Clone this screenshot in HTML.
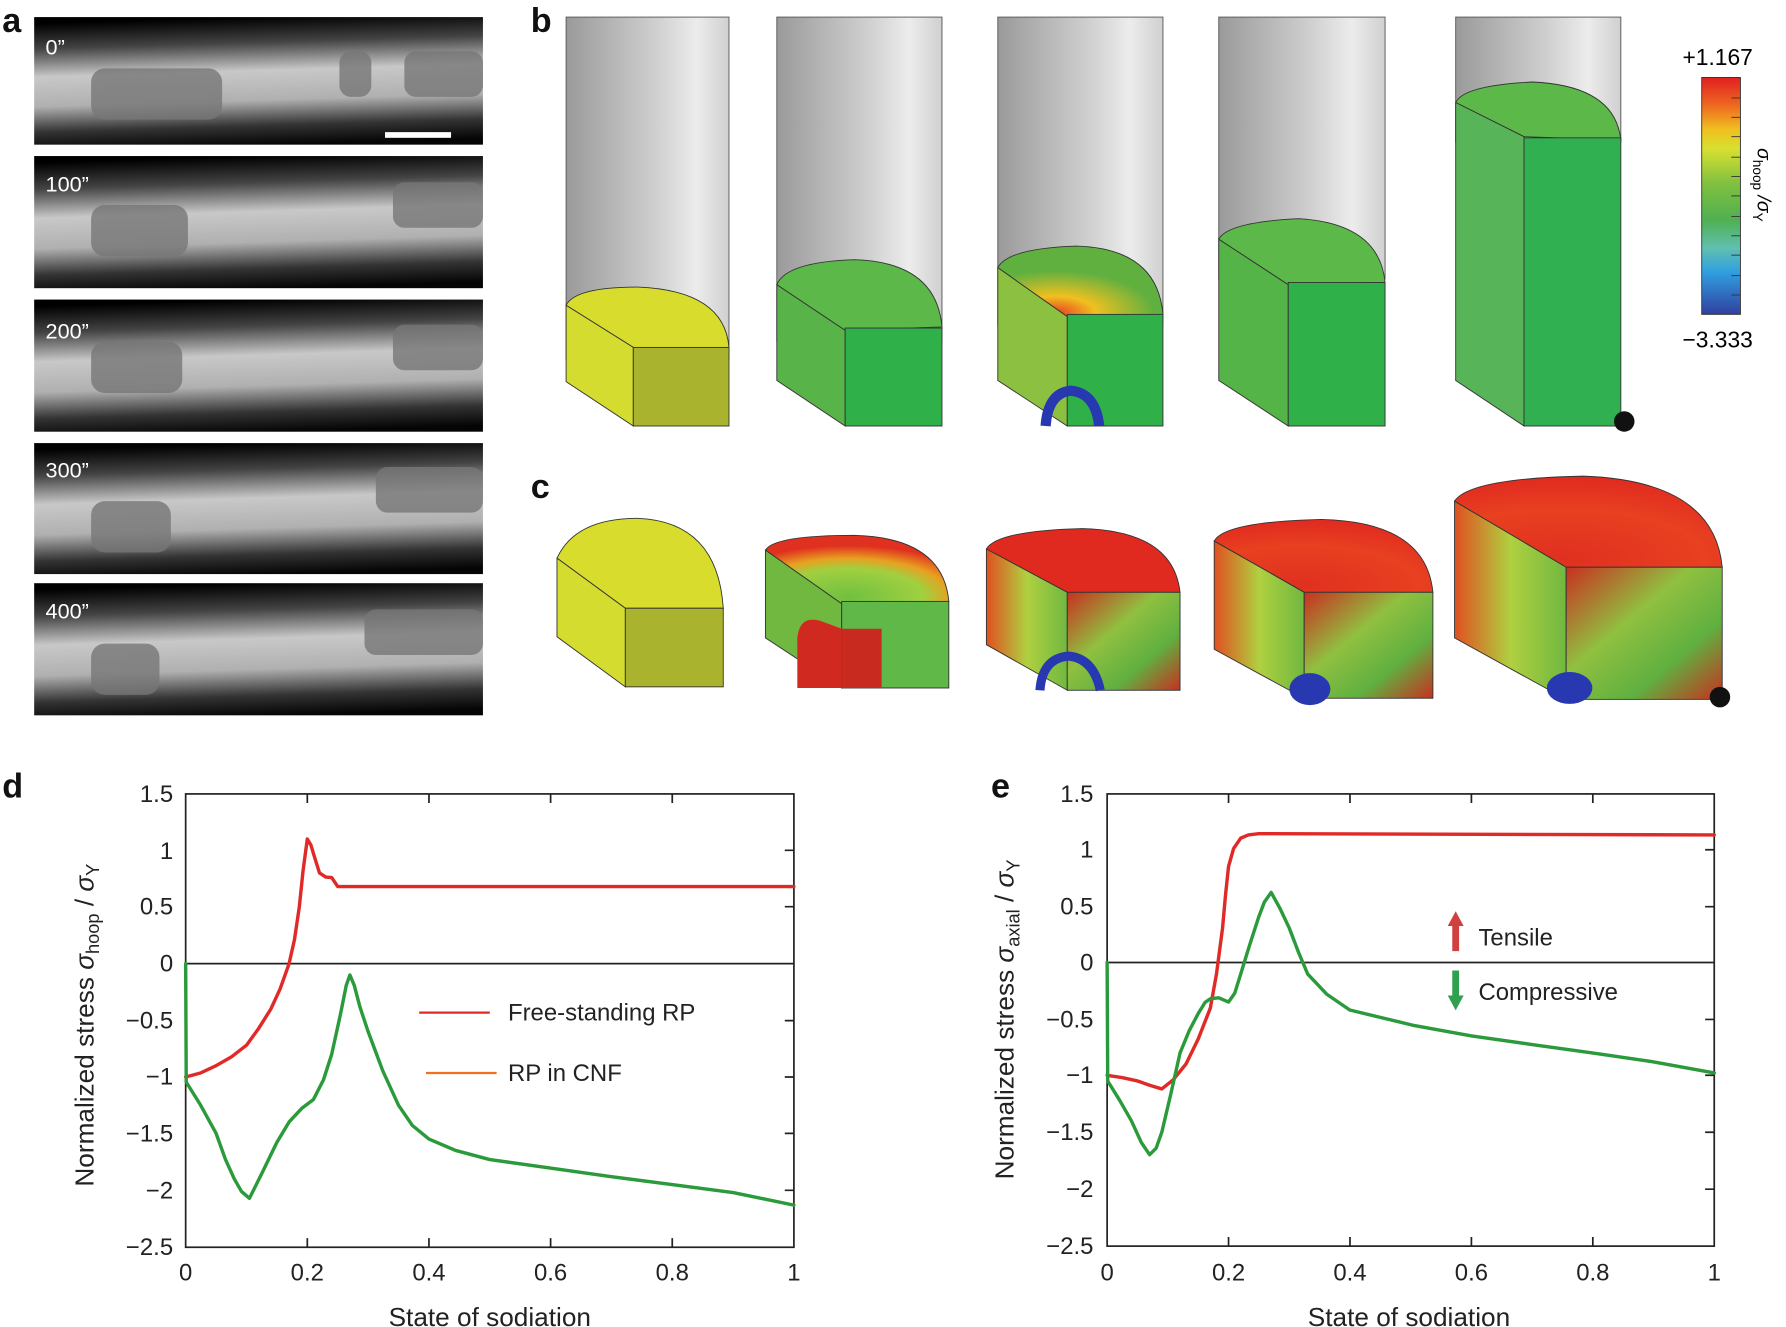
<!DOCTYPE html>
<html><head><meta charset="utf-8"><style>
html,body{margin:0;padding:0;background:#fff;}
svg{display:block;}
text{font-family:"Liberation Sans",Arial,sans-serif;}
</style></head><body>
<svg width="1786" height="1327" viewBox="0 0 1568 1165" preserveAspectRatio="none" xmlns="http://www.w3.org/2000/svg">
<defs>
<linearGradient id="band" x1="0" y1="0" x2="0" y2="1" gradientTransform="rotate(-6 0.5 0.5)">
<stop offset="0" stop-color="#000"/><stop offset="0.2" stop-color="#444"/><stop offset="0.42" stop-color="#c8c8c8"/><stop offset="0.65" stop-color="#b0b0b0"/><stop offset="0.85" stop-color="#333"/><stop offset="1" stop-color="#050505"/></linearGradient>
<linearGradient id="cyl" x1="0" y1="0" x2="1" y2="0">
<stop offset="0" stop-color="#9a9a9a"/><stop offset="0.55" stop-color="#cfcfcf"/><stop offset="0.8" stop-color="#ececec"/><stop offset="1" stop-color="#d0d0d0"/></linearGradient>
<linearGradient id="cbar" x1="0" y1="0" x2="0" y2="1">
<stop offset="0" stop-color="#e02020"/><stop offset="0.12" stop-color="#ee6a20"/><stop offset="0.22" stop-color="#f0c020"/><stop offset="0.3" stop-color="#d8e030"/><stop offset="0.45" stop-color="#80c040"/><stop offset="0.6" stop-color="#50b050"/><stop offset="0.72" stop-color="#60c0b0"/><stop offset="0.82" stop-color="#30a0e0"/><stop offset="1" stop-color="#3040a0"/></linearGradient>
<radialGradient id="redtop" cx="0.4" cy="0.9" r="0.9"><stop offset="0" stop-color="#e03020"/><stop offset="0.6" stop-color="#e84020"/><stop offset="1" stop-color="#e02a20"/></radialGradient>
<linearGradient id="redfront" x1="0" y1="0" x2="1" y2="1"><stop offset="0" stop-color="#c83020"/><stop offset="0.4" stop-color="#90c040"/><stop offset="0.7" stop-color="#60b040"/><stop offset="1" stop-color="#c83020"/></linearGradient>
<linearGradient id="redleft" x1="0" y1="0" x2="1" y2="0"><stop offset="0" stop-color="#e05020"/><stop offset="0.5" stop-color="#b0d040"/><stop offset="1" stop-color="#70b840"/></linearGradient>
<radialGradient id="hot" cx="0.35" cy="0.95" r="0.6"><stop offset="0" stop-color="#e84020"/><stop offset="0.4" stop-color="#f0c020"/><stop offset="1" stop-color="#60b040"/></radialGradient>
<radialGradient id="ring" cx="0.45" cy="0.9" r="0.75"><stop offset="0" stop-color="#70c040"/><stop offset="0.55" stop-color="#a0d040"/><stop offset="0.75" stop-color="#e8a020"/><stop offset="1" stop-color="#e03020"/></radialGradient>
</defs>
<rect width="1568" height="1165" fill="#fff"/>
<g>
<rect x="30" y="15" width="394" height="112" fill="url(#band)"/>
<rect x="30" y="137" width="394" height="116" fill="url(#band)"/>
<rect x="30" y="263" width="394" height="116" fill="url(#band)"/>
<rect x="30" y="389" width="394" height="115" fill="url(#band)"/>
<rect x="30" y="512" width="394" height="116" fill="url(#band)"/>
<g fill="#777" opacity="0.8">
<rect x="80" y="60" width="115" height="45" rx="12"/><rect x="298" y="45" width="28" height="40" rx="10"/><rect x="355" y="45" width="69" height="40" rx="10"/>
<rect x="80" y="180" width="85" height="45" rx="12"/><rect x="345" y="160" width="79" height="40" rx="10"/>
<rect x="80" y="300" width="80" height="45" rx="12"/><rect x="345" y="285" width="79" height="40" rx="10"/>
<rect x="80" y="440" width="70" height="45" rx="12"/><rect x="330" y="410" width="94" height="40" rx="10"/>
<rect x="80" y="565" width="60" height="45" rx="12"/><rect x="320" y="535" width="104" height="40" rx="10"/>
</g>
<rect x="338" y="116" width="58" height="5" fill="#fff"/>
<g fill="#fff" font-size="19"><text x="40" y="48">0”</text><text x="40" y="168">100”</text><text x="40" y="297">200”</text><text x="40" y="419">300”</text><text x="40" y="543">400”</text></g>
</g>
<g font-weight="bold" font-size="30" fill="#111"><text x="2" y="28">a</text><text x="466" y="28">b</text><text x="466" y="437">c</text><text x="2" y="700">d</text><text x="870" y="700">e</text></g>
<g stroke="#555" stroke-width="0.8">
<rect x="497" y="15" width="143" height="300" fill="url(#cyl)"/>
<rect x="682" y="15" width="145" height="285" fill="url(#cyl)"/>
<rect x="876" y="15" width="145" height="270" fill="url(#cyl)"/>
<rect x="1070" y="15" width="146" height="230" fill="url(#cyl)"/>
<rect x="1278" y="15" width="145" height="110" fill="url(#cyl)"/>
</g>
<g stroke="#333" stroke-width="0.8">
<path d="M497,268 L556,305 L640,305 Q636,255 560,252 Q505,252 497,268Z" fill="#d8dc2c"/>
<path d="M497,268 L556,305 L556,374 L497,335Z" fill="#d4dc30"/>
<rect x="556" y="305" width="84" height="69" fill="#aab32e"/>
<path d="M682,250 L742,290 L827,287 Q822,230 750,228 Q690,230 682,250Z" fill="#5cb848"/>
<path d="M682,250 L742,290 L742,374 L682,334Z" fill="#58b448"/>
<rect x="742" y="288" width="85" height="86" fill="#30b048"/>
<path d="M876,235 L937,278 L1021,276 Q1016,218 945,216 Q885,218 876,235Z" fill="url(#hot)"/>
<path d="M876,235 L937,278 L937,374 L876,334Z" fill="#8cc040"/>
<rect x="937" y="276" width="84" height="98" fill="#30b048"/>
<path d="M918,374 Q920,345 940,343 Q962,345 965,374" fill="none" stroke="#2838b0" stroke-width="9"/>
<path d="M1070,210 L1131,250 L1216,248 Q1211,196 1140,192 Q1078,195 1070,210Z" fill="#5cb848"/>
<path d="M1070,210 L1131,250 L1131,374 L1070,334Z" fill="#54b448"/>
<rect x="1131" y="248" width="85" height="126" fill="#30b048"/>
<path d="M1278,90 L1338,120 L1423,123 Q1418,75 1345,72 Q1285,75 1278,90Z" fill="#5cb848"/>
<path d="M1278,90 L1338,120 L1338,374 L1278,334Z" fill="#58b458"/>
<rect x="1338" y="121" width="85" height="253" fill="#30b050"/>
</g>
<circle cx="1426" cy="370" r="9" fill="#111"/>
<rect x="1494" y="68" width="34" height="208" fill="url(#cbar)" stroke="#333" stroke-width="0.8"/>
<g stroke="#333" stroke-width="0.8">
<line x1="1520" y1="86" x2="1528" y2="86"/><line x1="1520" y1="103" x2="1528" y2="103"/><line x1="1520" y1="120" x2="1528" y2="120"/><line x1="1520" y1="138" x2="1528" y2="138"/><line x1="1520" y1="155" x2="1528" y2="155"/><line x1="1520" y1="172" x2="1528" y2="172"/><line x1="1520" y1="190" x2="1528" y2="190"/><line x1="1520" y1="207" x2="1528" y2="207"/><line x1="1520" y1="224" x2="1528" y2="224"/><line x1="1520" y1="242" x2="1528" y2="242"/><line x1="1520" y1="259" x2="1528" y2="259"/></g>
<text x="1508" y="57" font-size="20" text-anchor="middle">+1.167</text>
<text x="1508" y="305" font-size="20" text-anchor="middle">−3.333</text>
<text transform="translate(1543,130) rotate(90)" font-size="17" font-style="italic">σ<tspan font-size="12" font-style="normal" dy="4">hoop</tspan><tspan dy="-4"> /σ</tspan><tspan font-size="12" font-style="normal" dy="4">Y</tspan></text>
<g stroke="#333" stroke-width="0.8">
<path d="M489,490 L549,534 L635,534 Q630,458 560,455 Q505,455 489,490Z" fill="#d8dc2c"/>
<path d="M489,490 L549,534 L549,603 L489,559Z" fill="#d4dc30"/>
<rect x="549" y="534" width="86" height="69" fill="#aab32e"/>
<path d="M672,483 L739,530 L833,528 Q828,472 750,470 Q680,470 672,483Z" fill="url(#ring)"/>
<path d="M672,483 L739,530 L739,604 L672,560Z" fill="#70b840"/>
<rect x="739" y="528" width="94" height="76" fill="#60b848"/>
<path d="M700,604 L700,560 Q702,540 720,545 L739,552 L739,604Z" fill="#d02a20" stroke="none"/>
<rect x="739" y="552" width="35" height="52" fill="#c82a20" stroke="none"/>
<path d="M866,482 L937,520 L1036,520 Q1030,466 950,464 Q875,466 866,482Z" fill="#e02a20"/>
<path d="M866,482 L937,520 L937,606 L866,566Z" fill="url(#redleft)"/>
<rect x="937" y="520" width="99" height="86" fill="url(#redfront)"/>
<path d="M913,606 Q915,578 938,576 Q960,578 966,606" fill="none" stroke="#2838b0" stroke-width="8"/>
<path d="M1066,475 L1145,520 L1258,520 Q1252,458 1160,456 Q1075,458 1066,475Z" fill="url(#redtop)"/>
<path d="M1066,475 L1145,520 L1145,613 L1066,570Z" fill="url(#redleft)"/>
<rect x="1145" y="520" width="113" height="93" fill="url(#redfront)"/>
<ellipse cx="1150" cy="605" rx="18" ry="14" fill="#2838b0" stroke="none"/>
<path d="M1277,440 L1375,498 L1512,498 Q1505,422 1390,418 Q1290,420 1277,440Z" fill="url(#redtop)"/>
<path d="M1277,440 L1375,498 L1375,614 L1277,560Z" fill="url(#redleft)"/>
<rect x="1375" y="498" width="137" height="116" fill="url(#redfront)"/>
<ellipse cx="1378" cy="604" rx="20" ry="14" fill="#2838b0" stroke="none"/>
</g>
<circle cx="1510" cy="612" r="9" fill="#111"/>
<g stroke="#222" stroke-width="1.5" fill="none">
<rect x="163" y="697" width="534" height="398"/>
<line x1="163" y1="846" x2="697" y2="846"/>
<path d="M269.8,697v8M376.6,697v8M483.4,697v8M590.2,697v8M269.8,1095v-8M376.6,1095v-8M483.4,1095v-8M590.2,1095v-8"/>
<path d="M697,746.5h-8M697,796h-8M697,896h-8M697,945.5h-8M697,995h-8M697,1045h-8"/>
</g>
<g fill="none" stroke-width="3" stroke-linejoin="round" stroke-linecap="round">
<polyline stroke="#e02a28" points="163,945.5 176,942 189.7,935.6 203,928 216.4,917.6 227,903 237.8,885.8 246,868 253.8,846 258.5,825 262.8,796 266,765 269.8,736.6 273,742 276,752 280.5,766.4 286,770 291.2,770.4 296.5,778.3 697,778.3"/>
<polyline stroke="#2a9a3a" points="163,846 163.5,950 176,970 189.7,995 198,1018 205.7,1035 212,1046 219,1052 225,1040 232.4,1025 243,1003 253.8,985 265,973 275.1,965.4 284,948 291.2,925.6 299,890 304,865 307.2,856 311,865 316,884 323.2,905.7 336,940 349.9,970.4 362,988 376.6,1000 400,1010 430,1018 480,1025 536.8,1033 590,1040 643.6,1047 697,1058"/>
</g>
<line x1="368" y1="889" x2="430" y2="889" stroke="#e02a28" stroke-width="2"/>
<line x1="374" y1="942" x2="436" y2="942" stroke="#f07020" stroke-width="2"/>
<g font-size="21" fill="#222"><text x="446" y="896">Free-standing RP</text><text x="446" y="949">RP in CNF</text></g>
<g font-size="21" fill="#222" text-anchor="end"><text x="152" y="704">1.5</text><text x="152" y="754">1</text><text x="152" y="803">0.5</text><text x="152" y="853">0</text><text x="152" y="903">−0.5</text><text x="152" y="952">−1</text><text x="152" y="1002">−1.5</text><text x="152" y="1052">−2</text><text x="152" y="1102">−2.5</text></g>
<g font-size="21" fill="#222" text-anchor="middle"><text x="163" y="1124">0</text><text x="269.8" y="1124">0.2</text><text x="376.6" y="1124">0.4</text><text x="483.4" y="1124">0.6</text><text x="590.2" y="1124">0.8</text><text x="697" y="1124">1</text></g>
<text x="430" y="1164" font-size="23" text-anchor="middle" fill="#222">State of sodiation</text>
<text transform="translate(82,900) rotate(-90)" font-size="23" text-anchor="middle" fill="#222">Normalized stress <tspan font-style="italic">σ</tspan><tspan font-size="16" dy="5">hoop</tspan><tspan dy="-5"> / </tspan><tspan font-style="italic">σ</tspan><tspan font-size="16" dy="5">Y</tspan></text>
<g stroke="#222" stroke-width="1.5" fill="none">
<rect x="972" y="697" width="533" height="397"/>
<line x1="972" y1="845" x2="1505" y2="845"/>
<path d="M1078.6,697v8M1185.2,697v8M1291.8,697v8M1398.4,697v8M1078.6,1094v-8M1185.2,1094v-8M1291.8,1094v-8M1398.4,1094v-8"/>
<path d="M1505,746h-8M1505,796h-8M1505,895h-8M1505,944h-8M1505,994h-8M1505,1044h-8"/>
</g>
<g fill="none" stroke-width="3" stroke-linejoin="round" stroke-linecap="round">
<polyline stroke="#e02a28" points="972,944 985,946 998.7,949 1010,953 1020,956 1030,948 1041.3,934 1052,912 1062.6,885 1068,855 1073.3,815 1076,785 1078.6,760.6 1083,745 1089.3,735.8 1096,733 1105,731.9 1505,733"/>
<polyline stroke="#2a9a3a" points="972,845 972.5,949 983,966 993.3,984 1002,1003 1009.3,1013.7 1015,1008 1020,994 1028,960 1036,924.4 1044,905 1052,889.7 1058,880 1062.6,876.8 1070,876 1078.6,879.7 1084,872 1089.3,855 1097,830 1105,805.3 1110,792 1116,783.5 1124,798 1132,815 1140,836 1148,855 1165,873 1185,886.7 1240,900 1292,909.5 1345,917 1398,924.4 1450,932 1505,942"/>
</g>
<path d="M1278,800 L1285,813 L1281,813 L1281,835 L1275,835 L1275,813 L1271,813Z" fill="#d04040"/>
<path d="M1278,887 L1285,874 L1281,874 L1281,852 L1275,852 L1275,874 L1271,874Z" fill="#30a050"/>
<g font-size="21" fill="#222"><text x="1298" y="830">Tensile</text><text x="1298" y="878">Compressive</text></g>
<g font-size="21" fill="#222" text-anchor="end"><text x="960" y="704">1.5</text><text x="960" y="753">1</text><text x="960" y="803">0.5</text><text x="960" y="852">0</text><text x="960" y="902">−0.5</text><text x="960" y="951">−1</text><text x="960" y="1001">−1.5</text><text x="960" y="1051">−2</text><text x="960" y="1101">−2.5</text></g>
<g font-size="21" fill="#222" text-anchor="middle"><text x="972" y="1124">0</text><text x="1078.6" y="1124">0.2</text><text x="1185.2" y="1124">0.4</text><text x="1291.8" y="1124">0.6</text><text x="1398.4" y="1124">0.8</text><text x="1505" y="1124">1</text></g>
<text x="1237" y="1164" font-size="23" text-anchor="middle" fill="#222">State of sodiation</text>
<text transform="translate(890,895) rotate(-90)" font-size="23" text-anchor="middle" fill="#222">Normalized stress <tspan font-style="italic">σ</tspan><tspan font-size="16" dy="5">axial</tspan><tspan dy="-5"> / </tspan><tspan font-style="italic">σ</tspan><tspan font-size="16" dy="5">Y</tspan></text>
</svg>
</body></html>
